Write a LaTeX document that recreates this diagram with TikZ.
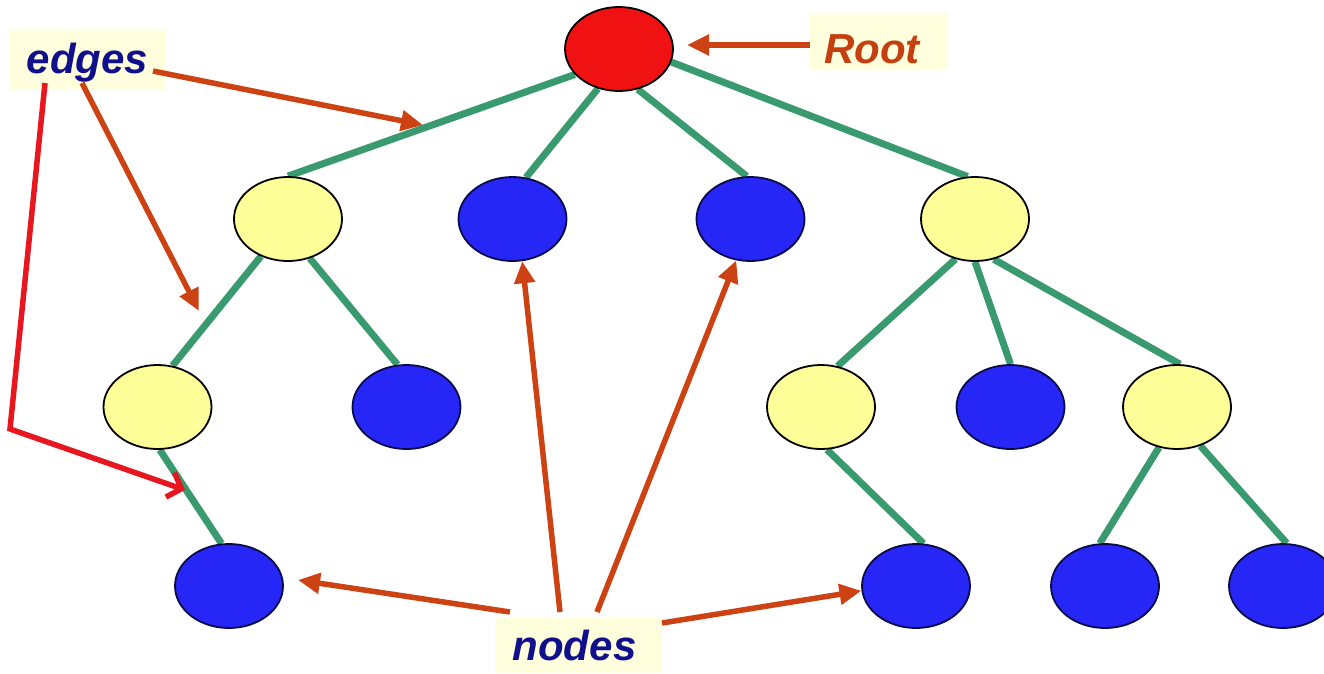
\documentclass[tikz,border=0pt]{standalone}
\usepackage{fontspec}
\setmainfont{Liberation Sans}
\usetikzlibrary{shapes.geometric,arrows.meta,backgrounds}
\definecolor{edgegreen}{RGB}{56,154,110}
\definecolor{nodeblue}{RGB}{38,38,246}
\definecolor{nodeyellow}{RGB}{255,255,153}
\definecolor{nodered}{RGB}{240,18,18}
\definecolor{navy}{RGB}{10,10,70}
\definecolor{pointerorange}{RGB}{204,66,18}
\definecolor{pointerred}{RGB}{232,22,30}
\definecolor{tagbg}{RGB}{255,255,221}
\definecolor{tagblue}{RGB}{16,16,140}
\definecolor{tagbrown}{RGB}{196,64,16}
\begin{document}
\begin{tikzpicture}[x=1pt,y=-1pt,
  tnode/.style={ellipse,minimum width=108pt,minimum height=84pt,inner sep=0pt,line width=1.8pt},
  leaf/.style={tnode,fill=nodeblue,draw=navy},
  branch/.style={tnode,fill=nodeyellow,draw=black},
  topnode/.style={tnode,fill=nodered,draw=black},
  treeedge/.style={draw=edgegreen,line width=7pt},
  pointer/.style={draw=pointerorange,line width=5.5pt,-{Triangle[length=22pt,width=20pt]}},
  redpointer/.style={draw=pointerred,line width=5.5pt,line join=miter,-{Straight Barb[length=12pt,width=26pt]}},
  tag/.style={fill=tagbg,inner sep=0pt,anchor=base,font=\bfseries\itshape\fontsize{42pt}{48pt}\selectfont}
]
\useasboundingbox (0,0) rectangle (1324,673);
\clip (0,0) rectangle (1324,673);

% tree nodes
\node[topnode] (root) at (619,49) {};
\node[branch] (ya) at (288,219) {};
\node[leaf]   (ba) at (512.5,219) {};
\node[leaf]   (bb) at (750.5,219) {};
\node[branch] (yb) at (975,219) {};
\node[branch] (yc) at (157.5,407) {};
\node[leaf]   (bc) at (406.5,407) {};
\node[branch] (yd) at (821,407) {};
\node[leaf]   (bd) at (1010.5,407) {};
\node[branch] (ye) at (1177,407) {};
\node[leaf]   (be) at (229,586) {};
\node[leaf]   (bf) at (916,586) {};
\node[leaf]   (bg) at (1105,586) {};
\node[leaf]   (bh) at (1283,586) {};

% tree edges, kept behind the nodes
\begin{scope}[on background layer]
  \draw[treeedge] (root.-150) -- (ya.90);
  \draw[treeedge] (root.-118) -- (ba.72);
  \draw[treeedge] (root.-65) -- (bb.95);
  \draw[treeedge] (root.-14) -- (yb.100);
  \draw[treeedge] (ya.-126) -- (yc.70);
  \draw[treeedge] (ya.-61) -- (bc.102);
  \draw[treeedge] (yb.-116) -- (yd.68);
  \draw[treeedge] (yb.-90) -- (bd.90);
  \draw[treeedge] (yb.-65) -- (ye.86);
  \draw[treeedge] (yc.-87) -- (be.100);
  \draw[treeedge] (yd.-82) -- (bf.80);
  \draw[treeedge] (ye.-114) -- (bg.97);
  \draw[treeedge] (ye.-59) -- (bh.85);
\end{scope}

% captions
\node[tag,text=tagblue,minimum width=155pt,text height=43pt,text depth=17pt] (edgesL) at (87.5,73) {edges};
\node[tag,text=tagbrown,minimum width=138pt,text height=50pt,text depth=7pt] (rootL) at (879,63) {Root\hspace*{14pt}};
\node[tag,text=tagblue,minimum width=167pt,text height=42pt,text depth=13pt] (nodesL) at (578.5,660) {nodes\hspace*{8pt}};

% pointer ends
\coordinate (eA0) at (153,71);
\coordinate (eA1) at (423,125);
\coordinate (eB0) at (82,83);
\coordinate (eB1) at (199,311);
\coordinate (eR0) at (45,83);
\coordinate (eR1) at (10,429);
\coordinate (eR2) at (185,490);
\coordinate (rt0) at (810,45);
\coordinate (rt1) at (687,45);
\coordinate (nA0) at (510,612);
\coordinate (nA1) at (298,580);
\coordinate (nB0) at (560,612);
\coordinate (nC0) at (597,612);
\coordinate (nD0) at (662,623);

% pointers
\draw[pointer] (eA0) -- (eA1);
\draw[pointer] (eB0) -- (eB1);
\draw[redpointer] (eR0) -- (eR1) -- (eR2);
\draw[pointer] (rt0) -- (rt1);
\draw[pointer] (nA0) -- (nA1);
\draw[pointer] (nB0) -- (ba.-77);
\draw[pointer] (nC0) -- (bb.-109);
\draw[pointer] (nD0) -- (bf.185);
\end{tikzpicture}
\end{document}
